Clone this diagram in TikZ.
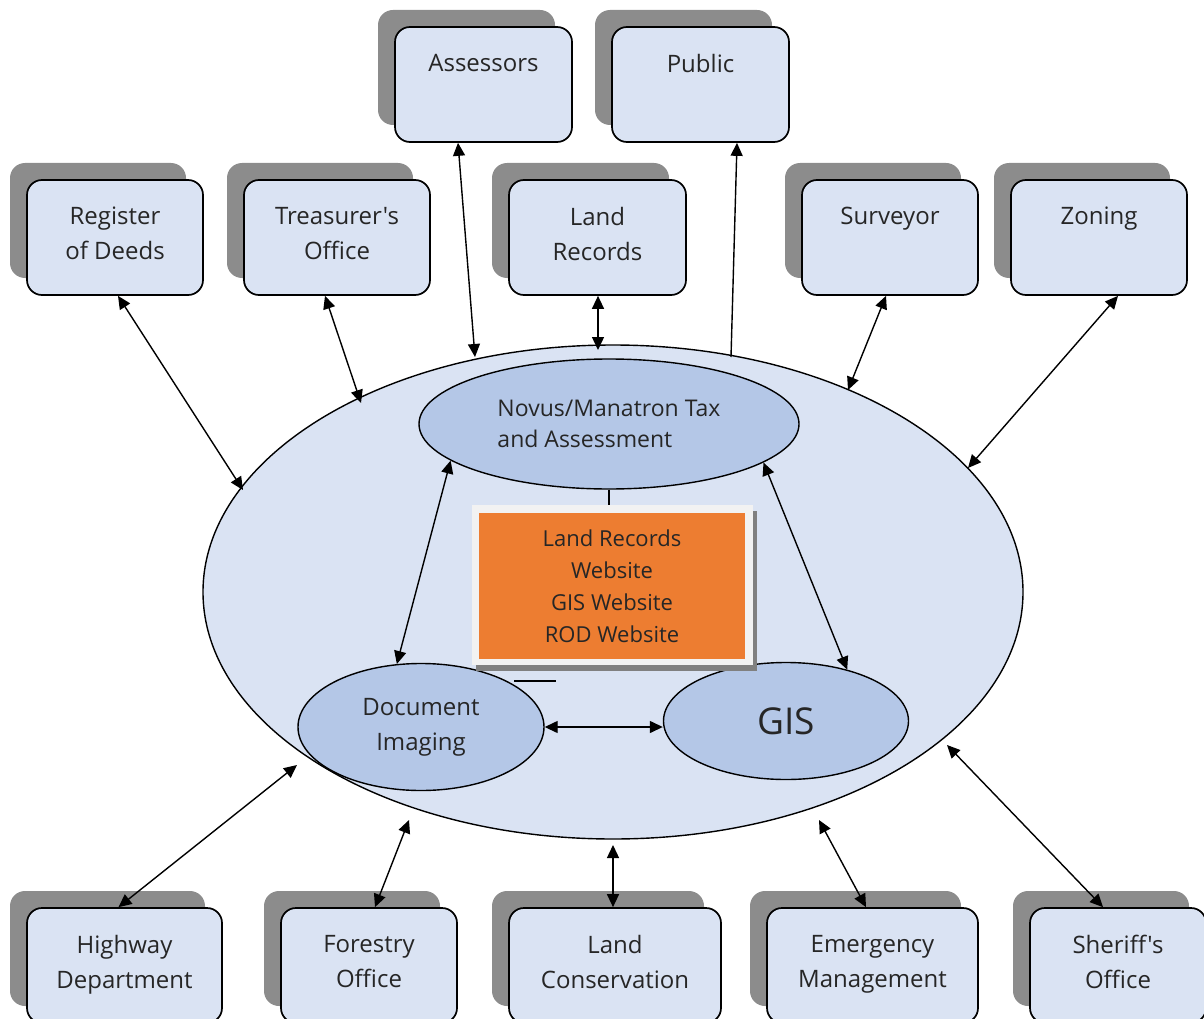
\documentclass[tikz,border=0pt]{standalone}
\usepackage{fontspec}
\setmainfont[Ligatures=TeXOff]{Open Sans}
\usetikzlibrary{arrows.meta,shapes.geometric,shadows}

\definecolor{boxblue}{HTML}{DAE3F3}
\definecolor{innerblue}{HTML}{B4C7E7}
\definecolor{weborange}{HTML}{ED7D31}
\definecolor{framegray}{HTML}{F2F2F2}
\definecolor{shadowgray}{HTML}{8C8C8C}
\definecolor{inkgray}{HTML}{262626}

\begin{document}
\begin{tikzpicture}[x=1pt,y=-1pt,
	office/.style={draw=black, line width=1.7pt, rounded corners=15pt, fill=boxblue,
		minimum height=115pt, inner sep=0pt,
		copy shadow={shadow xshift=-17pt, shadow yshift=17pt, fill=shadowgray, draw=none}},
	officetext/.style={anchor=north, yshift=-28pt, inner sep=0pt, align=center,
		text=inkgray, font=\fontsize{24}{35}\selectfont},
	system/.style={ellipse, draw=black, line width=1.4pt, fill=innerblue, inner sep=0pt, text=inkgray},
	link/.style={line width=1.4pt, {Triangle[length=13pt,width=12pt]}-{Triangle[length=13pt,width=12pt]}}]

		\useasboundingbox (0,0) rectangle (1204,1019);

		% county network
		\node [ellipse, draw=black, line width=1.4pt, fill=boxblue, minimum width=820pt,
			minimum height=494pt, inner sep=0pt] (hub) at (613,592) {};

		\node [system, minimum width=380pt, minimum height=130pt, align=left,
			font=\fontsize{23}{31}\selectfont] (tax) at (609,424) {Novus/Manatron Tax\\and Assessment};
		\node [system, minimum width=246pt, minimum height=127pt, align=center,
			font=\fontsize{24}{35}\selectfont] (doc) at (421,727) {Document\\Imaging};
		\node [system, minimum width=245pt, minimum height=117pt,
			font=\fontsize{37}{40}\selectfont] (gis) at (786,721) {GIS};

		\node [fill=framegray, minimum width=281pt, minimum height=160pt, inner sep=0pt,
			drop shadow={shadow xshift=4pt, shadow yshift=-6pt, fill=gray, opacity=1}] (frame) at (612.5,585) {};
		\node [fill=weborange, minimum width=266pt, minimum height=146pt, align=center, text=inkgray,
			font=\fontsize{22}{32}\selectfont] (web) at (612,586) {Land Records\\Website\\GIS Website\\ROD Website};

		\draw [line width=1.4pt] (tax.south) -- (tax.south |- frame.north);
		\draw [line width=1.4pt] (514,681) -- (556,681);

		% offices
		\node [office, minimum width=177pt, label={[officetext]north:Assessors}] (ass) at (483.5,84.5) {};
		\node [office, minimum width=177pt, label={[officetext]north:Public}] (pub) at (700.5,84.5) {};

		\node [office, minimum width=176pt, label={[officetext]north:{Register\\of Deeds}}] (reg) at (115,237.5) {};
		\node [office, minimum width=186pt, label={[officetext]north:{Treasurer's\\Office}}] (tre) at (337,237.5) {};
		\node [office, minimum width=177pt, label={[officetext]north:{Land\\Records}}] (lrec) at (597.5,237.5) {};
		\node [office, minimum width=176pt, label={[officetext]north:Surveyor}] (sur) at (890,237.5) {};
		\node [office, minimum width=176pt, label={[officetext]north:Zoning}] (zon) at (1099,237.5) {};

		\node [office, minimum width=195pt, label={[officetext]north:{Highway\\Department}}] (hwy) at (124.5,965.5) {};
		\node [office, minimum width=176pt, label={[officetext]north:{Forestry\\Office}}] (frs) at (369,965.5) {};
		\node [office, minimum width=212pt, label={[officetext]north:{Land\\Conservation}}] (lcon) at (615,965.5) {};
		\node [office, minimum width=211pt, label={[officetext]north:{Emergency\\Management}}] (emg) at (872.5,965.5) {};
		\node [office, minimum width=176pt, label={[officetext]north:{Sheriff's\\Office}}] (shf) at (1118,965.5) {};

		% ends on the big ellipse
		\coordinate (hReg) at (243,490);
		\coordinate (hTre) at (361,403);
		\coordinate (hAss) at (475,357);
		\coordinate (hLrec) at (598,350);
		\coordinate (hPub) at (731,357);
		\coordinate (hSur) at (848,390);
		\coordinate (hZon) at (968,468);
		\coordinate (hHwy) at (297,765);
		\coordinate (hFrs) at (409,820);
		\coordinate (hLcon) at (613,845);
		\coordinate (hEmg) at (819,820);
		\coordinate (hShf) at (947,745);

		\draw [link] ([xshift=3pt]reg.south) -- (hReg);
		\draw [link] ([xshift=-12pt]tre.south) -- (hTre);
		\draw [link] ([xshift=-25.5pt]ass.south) -- (hAss);
		\draw [link] ([xshift=0.5pt]lrec.south) -- (hLrec);
		\draw [line width=1.4pt, -{Triangle[length=13pt,width=12pt]}] (hPub) -- ([xshift=36.5pt]pub.south);
		\draw [link] ([xshift=-4pt]sur.south) -- (hSur);
		\draw [link] ([xshift=19pt]zon.south) -- (hZon);

		\draw [link] ([xshift=-6pt]hwy.north) -- (hHwy);
		\draw [link] ([xshift=6pt]frs.north) -- (hFrs);
		\draw [link] ([xshift=-2pt]lcon.north) -- (hLcon);
		\draw [link] ([xshift=-6.5pt]emg.north) -- (hEmg);
		\draw [link] ([xshift=-15pt]shf.north) -- (hShf);

		\draw [link] (tax.193.5) -- (doc.111);
		\draw [link] (tax.346.7) -- (gis.40.4);
		\draw [link] (doc.east) -- (doc.east -| gis.west);

\end{tikzpicture}
\end{document}
